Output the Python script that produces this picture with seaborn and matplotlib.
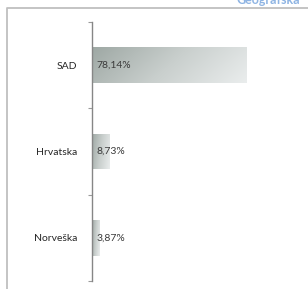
import numpy as np
import pandas as pd
import seaborn as sns
import matplotlib.pyplot as plt
from matplotlib.lines import Line2D
from matplotlib.colors import LinearSegmentedColormap

countries = ["SAD", "Hrvatska", "Norveška"]
shares = [78.14, 8.73, 3.87]
value_labels = ["78,14%", "8,73%", "3,87%"]
title = "Geografska"

df = pd.DataFrame({"country": countries, "share": shares})

sns.set_style("white")
plt.rcParams["font.family"] = ["Lato", "DejaVu Sans"]

fig = plt.figure(figsize=(3.08, 2.89), dpi=100)
ax = fig.add_axes([92 / 308, 8 / 289, 198 / 308, 259 / 289])

sns.barplot(data=df, y="country", x="share", orient="h", width=0.41,
            color="white", edgecolor="none", ax=ax)

# gradient fill, dark at left/top to light at right
cmap = LinearSegmentedColormap.from_list("g", ["#9ea8a4", "#c9cfcd", "#eaeded"])
gx, gy = np.meshgrid(np.linspace(0, 1, 200), np.linspace(0, 1, 50))
grad = 0.8 * gx + 0.2 * gy
for bar in ax.patches:
    x0, y0 = bar.get_x(), bar.get_y()
    w, h = bar.get_width(), bar.get_height()
    im = ax.imshow(grad, cmap=cmap, aspect="auto", extent=[x0, x0 + w, y0 + h, y0],
                   zorder=bar.get_zorder() + 0.1)
    im.set_clip_path(bar)

for i, lab in enumerate(value_labels):
    ax.text(2.4, i, lab, va="center", ha="left", fontsize=7.5, color="#3a3a3a", zorder=5)

ax.set_xlim(0, 100)
ax.set_ylim(2.5, -0.5)
ax.set_xlabel("")
ax.set_ylabel("")
ax.set_xticks([])
ax.set_yticks(range(len(countries)))
ax.set_yticklabels(countries, fontsize=7.5, color="#262626")
ax.set_yticks([-0.5, 0.5, 1.5, 2.5], minor=True)
ax.tick_params(axis="y", which="major", left=False, pad=7)
ax.tick_params(axis="y", which="minor", left=True, length=3, width=0.8,
               color="#9a9a9a", direction="out")
sns.despine(ax=ax, top=True, right=True, bottom=True)
ax.spines["left"].set_color("#868686")
ax.spines["left"].set_linewidth(1.0)

# outer frame (top and left edges)
fig.add_artist(Line2D([6.5 / 308, 6.5 / 308, 1.0], [0.0, 1 - 7.5 / 289, 1 - 7.5 / 289],
                      transform=fig.transFigure, color="#bfbfbf", linewidth=1.3))
fig.text(300 / 308, 1 - 0.5 / 289, title, ha="right", va="center", fontsize=9,
         fontweight="bold", color="#8eb4e3")

fig.savefig("out.png", dpi=100)
